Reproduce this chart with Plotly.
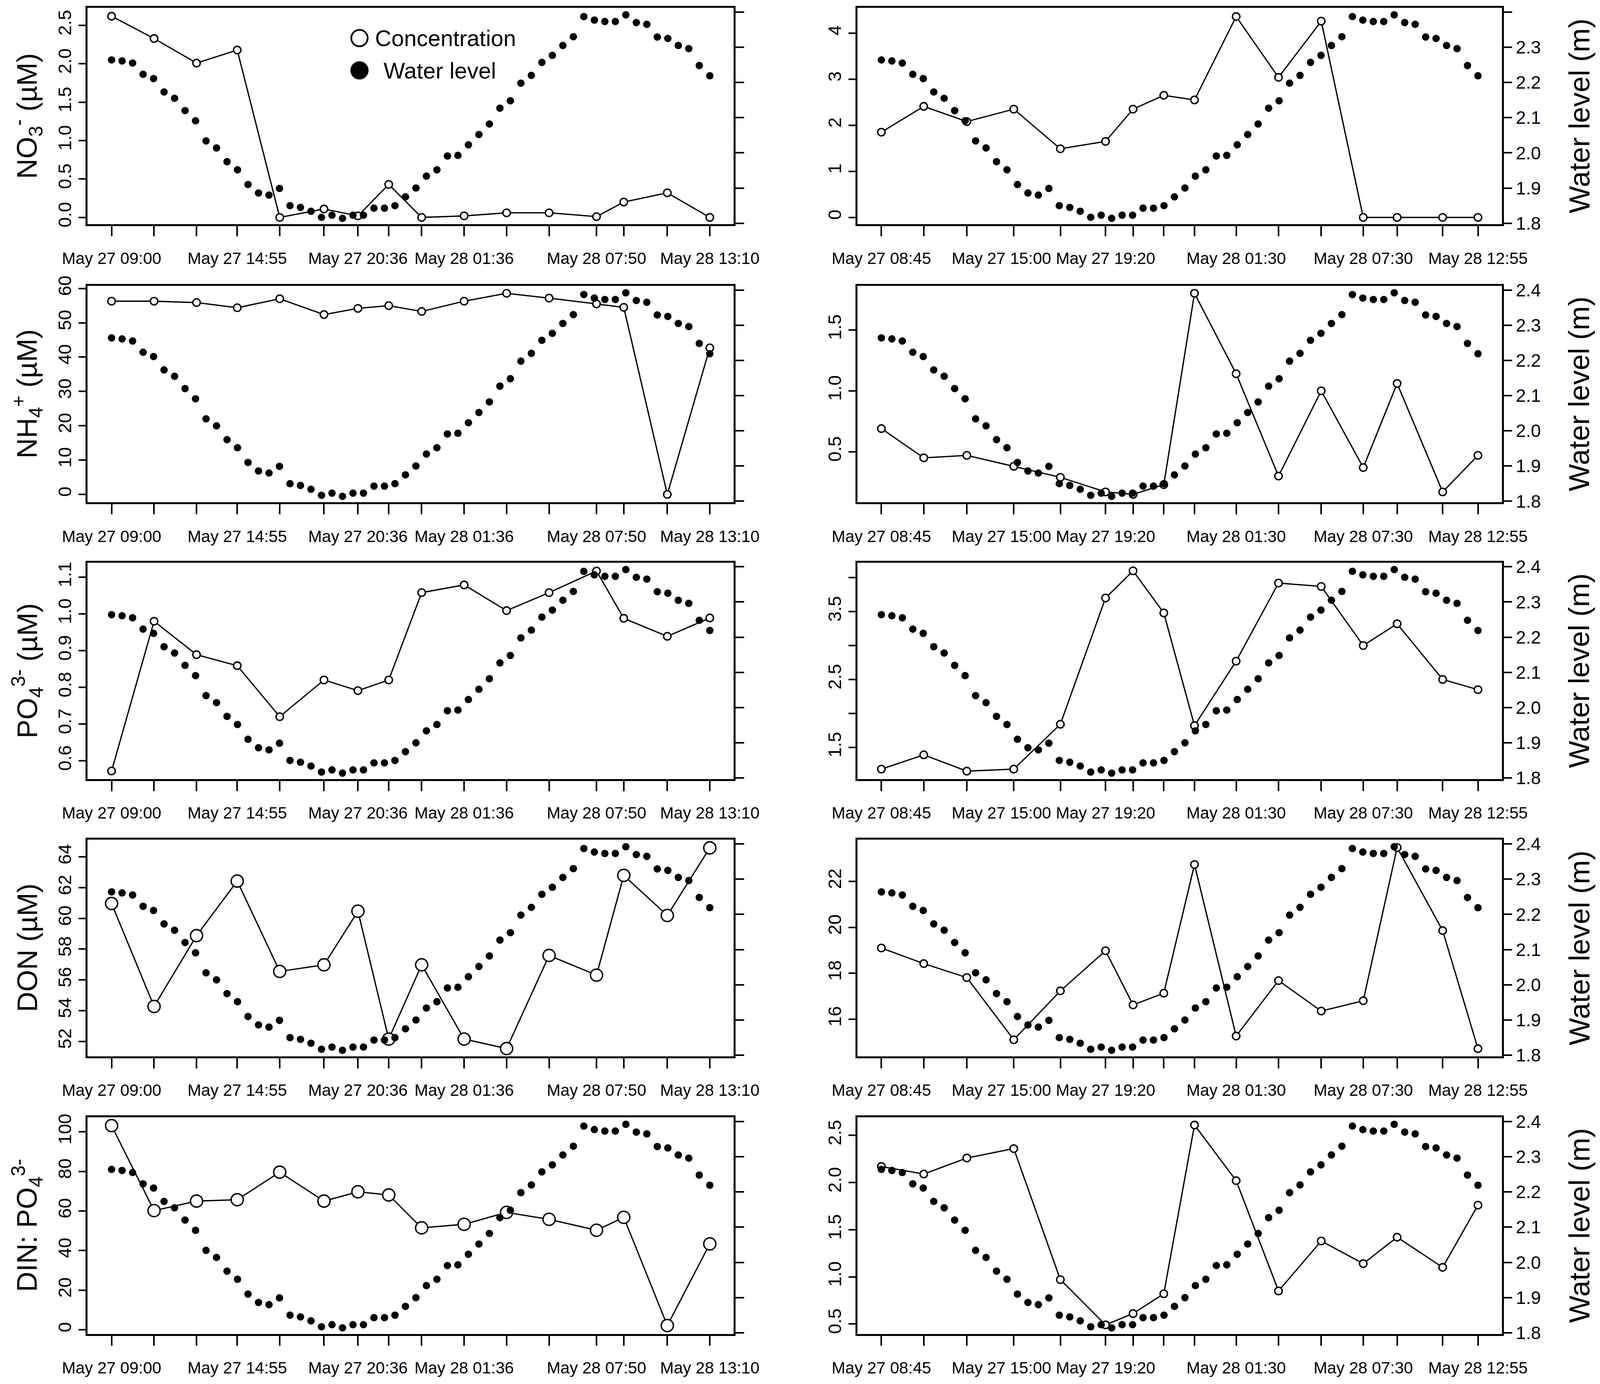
import numpy as np
import pandas as pd
import plotly.graph_objects as go

# --- sampling times (site on the left / site on the right) ---
LEFT_TIMES = ["05-27 09:00", "05-27 11:00", "05-27 13:00", "05-27 14:55",
              "05-27 16:55", "05-27 19:00", "05-27 20:36", "05-27 22:03",
              "05-27 23:36", "05-28 01:36", "05-28 03:36", "05-28 05:36",
              "05-28 07:50", "05-28 09:07", "05-28 11:10", "05-28 13:10"]
RIGHT_TIMES = ["05-27 08:45", "05-27 10:45", "05-27 12:47", "05-27 15:00",
               "05-27 17:12", "05-27 19:20", "05-27 20:38", "05-27 22:05",
               "05-27 23:32", "05-28 01:30", "05-28 03:30", "05-28 05:31",
               "05-28 07:30", "05-28 09:06", "05-28 11:15", "05-28 12:55"]

# x tick labels and where they are printed
LEFT_LABELS = ["May 27 09:00", "May 27 14:55", "May 27 20:36",
               "May 28 01:36", "May 28 07:50", "May 28 13:10"]
LEFT_LABEL_AT = ["05-27 09:00", "05-27 14:55", "05-27 20:36",
                 "05-28 01:36", "05-28 07:50", "05-28 13:10"]
RIGHT_LABELS = ["May 27 08:45", "May 27 15:00", "May 27 19:20",
                "May 28 01:30", "May 28 07:30", "May 28 12:55"]
RIGHT_LABEL_AT = ["05-27 08:45", "05-27 14:25", "05-27 19:20",
                  "05-28 01:30", "05-28 07:30", "05-28 12:55"]

# --- water level (m), logged between first and last sample ---
WATER_LEVEL = [2.264, 2.261, 2.255, 2.223, 2.211, 2.173, 2.155, 2.120, 2.091, 2.034,
               2.014, 1.975, 1.952, 1.910, 1.886, 1.880, 1.899, 1.850, 1.845, 1.834,
               1.817, 1.823, 1.814, 1.823, 1.823, 1.843, 1.843, 1.850, 1.875, 1.900,
               1.934, 1.952, 1.991, 1.993, 2.023, 2.052, 2.082, 2.127, 2.148, 2.198,
               2.220, 2.257, 2.277, 2.305, 2.330, 2.387, 2.377, 2.373, 2.373, 2.392,
               2.370, 2.365, 2.329, 2.325, 2.305, 2.296, 2.248, 2.219]
WL_TICKS = [1.8, 1.9, 2.0, 2.1, 2.2, 2.3, 2.4]

# --- concentrations ---
NO3_L = [2.62, 2.33, 2.01, 2.18, 0.0, 0.11, 0.02, 0.43, 0.0, 0.02, 0.06, 0.06, 0.01, 0.20, 0.32, 0.0]
NO3_R = [1.85, 2.41, 2.08, 2.35, 1.49, 1.65, 2.35, 2.65, 2.55, 4.36, 3.04, 4.26, 0.0, 0.0, 0.0, 0.0]
NH4_L = [56.3, 56.3, 55.9, 54.4, 57.0, 52.4, 54.2, 55.0, 53.3, 56.3, 58.6, 57.2, 55.5, 54.5, 0.0, 42.7]
NH4_R = [0.69, 0.45, 0.47, 0.38, 0.29, 0.17, 0.15, 0.23, 1.80, 1.14, 0.30, 1.00, 0.37, 1.06, 0.17, 0.47]
PO4_L = [0.572, 0.980, 0.889, 0.859, 0.720, 0.820, 0.791, 0.820, 1.058, 1.079, 1.009, 1.058,
         1.117, 0.988, 0.939, 0.989]
PO4_R = [1.18, 1.39, 1.15, 1.18, 1.84, 3.70, 4.10, 3.48, 1.82, 2.77, 3.92, 3.87, 3.00, 3.32, 2.50, 2.35]
DON_L = [60.97, 54.27, 58.88, 62.43, 56.55, 56.98, 60.47, 52.15, 56.98, 52.15, 51.53, 57.59,
         56.31, 62.80, 60.19, 64.59]
DON_R = [19.10, 18.42, 17.81, 15.10, 17.23, 18.98, 16.62, 17.13, 22.74, 15.26, 17.68, 16.35,
         16.80, 23.48, 19.86, 14.71]
DIN_L = [103.1, 60.2, 65.0, 65.7, 79.6, 65.0, 69.7, 68.1, 51.5, 53.3, 59.3, 55.8, 50.3, 56.8, 2.2, 43.4]
DIN_R = [2.17, 2.09, 2.26, 2.36, 0.97, 0.49, 0.61, 0.82, 2.61, 2.02, 0.85, 1.38, 1.14, 1.42, 1.10, 1.76]

ROW_TITLES = ["NO<sub>3</sub><sup>-</sup> (µM)", "NH<sub>4</sub><sup>+</sup> (µM)",
              "PO<sub>4</sub><sup>3-</sup> (µM)", "DON (µM)", "DIN: PO<sub>4</sub><sup>3-</sup>"]

# per panel: values, y-range, labelled ticks, their labels, unlabelled ticks, big circles?
PANELS = [
    (NO3_L, [-0.09, 2.73], [0, 0.5, 1, 1.5, 2, 2.5], ["0.0", "0.5", "1.0", "1.5", "2.0", "2.5"], [], False),
    (NO3_R, [-0.15, 4.55], [0, 1, 2, 3, 4], ["0", "1", "2", "3", "4"], [], False),
    (NH4_L, [-2.3, 60.8], [0, 10, 20, 30, 40, 50, 60], ["0", "10", "20", "30", "40", "50", "60"], [], False),
    (NH4_R, [0.085, 1.862], [0.5, 1.0, 1.5], ["0.5", "1.0", "1.5"], [], False),
    (PO4_L, [0.550, 1.140], [0.6, 0.7, 0.8, 0.9, 1.0, 1.1], ["0.6", "0.7", "0.8", "0.9", "1.0", "1.1"], [], False),
    (PO4_R, [1.033, 4.222], [1.5, 2.5, 3.5], ["1.5", "2.5", "3.5"], [2.0, 3.0, 4.0], False),
    (DON_L, [51.03, 65.12], [52, 54, 56, 58, 60, 62, 64], ["52", "54", "56", "58", "60", "62", "64"], [], True),
    (DON_R, [14.38, 23.82], [16, 18, 20, 22], ["16", "18", "20", "22"], [], False),
    (DIN_L, [-2.0, 107.3], [0, 20, 40, 60, 80, 100], ["0", "20", "40", "60", "80", "100"], [], True),
    (DIN_R, [0.395, 2.692], [0.5, 1.0, 1.5, 2.0, 2.5], ["0.5", "1.0", "1.5", "2.0", "2.5"], [], False),
]

# reference frame of the layout: positions are fractions of it
W, H = 4544, 3544
BOX_X = [(241, 2083), (2436, 4273)]
BOX_TOP = [12, 727, 1439, 2152, 2866]
BOX_H = 557
FONT = "Liberation Sans, Arial, sans-serif"


def to_times(labels):
    return pd.to_datetime(["2019-" + t for t in labels])


def ref(kind, n):
    return kind if n == 1 else f"{kind}{n}"


fig = go.Figure()
layout = {}
n_panels = len(PANELS)

for p, (vals, yrange, tvals, ttext, minor_vals, big) in enumerate(PANELS):
    r, c = divmod(p, 2)
    times = to_times(LEFT_TIMES if c == 0 else RIGHT_TIMES)
    label_at = to_times(LEFT_LABEL_AT if c == 0 else RIGHT_LABEL_AT)
    labels = LEFT_LABELS if c == 0 else RIGHT_LABELS
    wl_times = pd.date_range(times[0], times[-1], periods=len(WATER_LEVEL))
    span = times[-1] - times[0]
    xr = [times[0] - 0.04 * span, times[-1] + 0.04 * span]

    xn, xl, y1, y2 = p + 1, n_panels + p + 1, 2 * p + 1, 2 * p + 2

    fig.add_trace(go.Scatter(
        x=times, y=vals, mode="lines+markers",
        line=dict(color="black", width=3.3),
        marker=dict(symbol="circle", size=31 if big else 19, color="white",
                    line=dict(color="black", width=3.6)),
        xaxis=ref("x", xn), yaxis=ref("y", y1), showlegend=False, hoverinfo="skip"))
    fig.add_trace(go.Scatter(
        x=wl_times, y=WATER_LEVEL, mode="markers",
        marker=dict(symbol="circle", size=19, color="black"),
        xaxis=ref("x", xn), yaxis=ref("y", y2), showlegend=False, hoverinfo="skip"))
    # empty trace so the label axis gets drawn
    fig.add_trace(go.Scatter(x=label_at[:1], y=[None], mode="markers",
                             xaxis=ref("x", xl), yaxis=ref("y", y1),
                             showlegend=False, hoverinfo="skip"))

    x0, x1 = BOX_X[c]
    top = BOX_TOP[r]
    ydom = [1 - (top + BOX_H) / H, 1 - top / H]

    layout[ref("xaxis", xn)] = dict(
        domain=[x0 / W, x1 / W], anchor=ref("y", y1),
        range=xr, tickmode="array", tickvals=list(times), showticklabels=False,
        ticks="outside", ticklen=26, tickwidth=3.6, tickcolor="black",
        showline=True, linewidth=4.5, linecolor="black", mirror=True,
        showgrid=False, zeroline=False, automargin=False)
    layout[ref("xaxis", xl)] = dict(
        overlaying=ref("x", xn), anchor=ref("y", y1), side="bottom",
        range=xr, tickmode="array", tickvals=list(label_at), ticktext=labels,
        ticks="outside", ticklen=26, tickwidth=1, tickcolor="rgba(0,0,0,0)",
        showline=False, showgrid=False, zeroline=False, tickangle=0, automargin=False,
        tickfont=dict(family=FONT, size=42, color="black"), ticklabelstandoff=24)
    yax = dict(
        domain=ydom, anchor=ref("x", xn), range=yrange, tickmode="array",
        tickvals=tvals, ticktext=ttext, ticks="outside", ticklen=19, tickwidth=3.6,
        tickcolor="black", showline=True, linewidth=4.5, linecolor="black",
        showgrid=False, zeroline=False, tickangle=-90, automargin=False,
        tickfont=dict(family=FONT, size=47, color="black"))
    if minor_vals:
        yax["minor"] = dict(tickmode="array", tickvals=minor_vals, ticks="outside",
                            ticklen=19, tickwidth=3.6, tickcolor="black", showgrid=False)
    layout[ref("yaxis", y1)] = yax
    layout[ref("yaxis", y2)] = dict(
        overlaying=ref("y", y1), side="right", anchor=ref("x", xn),
        range=[1.797, 2.412], tickmode="array", tickvals=WL_TICKS,
        ticktext=[f"{v:.1f}" for v in WL_TICKS], showticklabels=(c == 1),
        ticks="outside", ticklen=22, tickwidth=3.6, tickcolor="black",
        showline=True, linewidth=4.5, linecolor="black", showgrid=False, zeroline=False,
        automargin=False, tickfont=dict(family=FONT, size=46, color="black"))

annotations = []
for r, title in enumerate(ROW_TITLES):
    yc = 1 - (BOX_TOP[r] + BOX_H / 2) / H
    annotations.append(dict(text=title, x=68 / W, y=yc, xref="paper", yref="paper",
                            xanchor="center", yanchor="middle", textangle=-90, showarrow=False,
                            font=dict(family=FONT, size=72, color="black")))
    annotations.append(dict(text="Water level (m)", x=4494 / W, y=yc, xref="paper", yref="paper",
                            xanchor="center", yanchor="middle", textangle=-90, showarrow=False,
                            font=dict(family=FONT, size=74, color="black")))

# legend (top-left panel): round symbols sized in pixels
LEGEND_ITEMS = [("Concentration", 90, 1058, "white"), ("Water level", 173, 1082, "black")]
shapes = []
for text, yc_px, tx_px, fill in LEGEND_ITEMS:
    shapes.append(dict(type="circle", xref="paper", yref="paper",
                       xsizemode="pixel", xanchor=1016 / W, x0=-21, x1=21,
                       ysizemode="pixel", yanchor=1 - yc_px / H, y0=-21, y1=21,
                       fillcolor=fill, line=dict(color="black", width=4.5)))
    annotations.append(dict(text=text, x=tx_px / W, y=1 - yc_px / H, xref="paper", yref="paper",
                            xanchor="left", yanchor="middle", showarrow=False,
                            font=dict(family=FONT, size=58, color="black")))

fig.update_layout(
    margin=dict(l=0, r=0, t=0, b=0, pad=0),
    paper_bgcolor="white", plot_bgcolor="white", showlegend=False,
    annotations=annotations, shapes=shapes, **layout)

# the figure fills the browser window
fig.write_html("out.html", default_width="100%", default_height="calc(100vh - 16px)")
